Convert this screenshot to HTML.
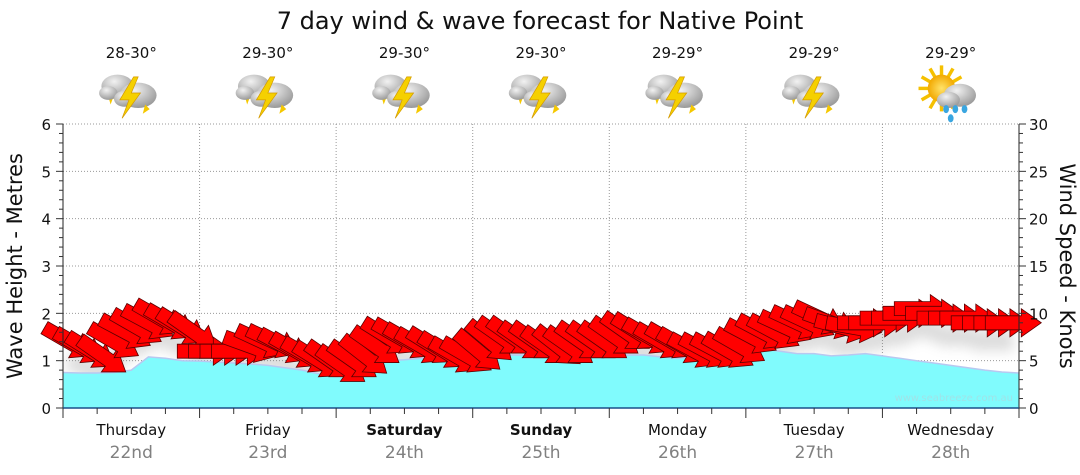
<!DOCTYPE html>
<html><head><meta charset="utf-8"><style>
body{margin:0;background:#fff;}
svg{display:block;font-family:"DejaVu Sans","Liberation Sans",sans-serif;}
</style></head><body>
<svg id="chart" width="1080" height="475" viewBox="0 0 1080 475">
<defs>
<filter id="blur" x="-10%" y="-50%" width="120%" height="200%"><feGaussianBlur stdDeviation="6"/></filter>
<radialGradient id="cloudg" cx="40%" cy="30%" r="70%"><stop offset="0" stop-color="#f2f2f2"/><stop offset="1" stop-color="#9a9a9a"/></radialGradient>
<radialGradient id="sung" cx="50%" cy="50%" r="50%"><stop offset="0" stop-color="#ffe36a"/><stop offset="1" stop-color="#f2a800"/></radialGradient>
</defs>
<text x="540" y="29" text-anchor="middle" font-size="24" fill="#111">7 day wind &amp; wave forecast for Native Point</text>
<g id="grid"></g>
<g id="shadow" filter="url(#blur)" opacity="0.25"></g>
<g id="wave"></g>
<g id="arrows"></g>
<g id="axes"></g>
<g id="icons"></g>
<text x="1013" y="401" text-anchor="end" font-size="10" fill="#9fe3e8">www.seabreeze.com.au</text>
<text transform="translate(22,266) rotate(-90)" text-anchor="middle" font-size="21" fill="#111">Wave Height - Metres</text>
<text transform="translate(1060,266) rotate(90)" text-anchor="middle" font-size="21" fill="#111">Wind Speed - Knots</text>
</svg>
<script>
const days=["Thursday","Friday","Saturday","Sunday","Monday","Tuesday","Wednesday"];
const dates=["22nd","23rd","24th","25th","26th","27th","28th"];
const boldDays=[false,false,true,true,false,false,false];
const temps=["28-30°","29-30°","29-30°","29-30°","29-29°","29-29°","29-29°"];
const weather=["storm","storm","storm","storm","storm","storm","sunrain"];
// wave height (m), every 3 hours, 8 per day + end
const waveHeights=[0.75,0.74,0.74,0.75,0.8,1.08,1.05,1.0,
 0.99,0.97,0.95,0.93,0.9,0.85,0.8,0.72,
 0.66,0.7,0.85,1.0,1.02,1.05,1.02,1.0,
 1.05,1.1,1.12,1.12,1.1,1.12,1.15,1.15,
 1.1,1.12,1.12,1.08,1.05,1.08,1.12,1.3,
 1.28,1.25,1.2,1.15,1.15,1.1,1.12,1.15,
 1.1,1.05,1.0,0.95,0.9,0.85,0.8,0.76,0.74];
// wind speed (knots), every 2 hours, 12 per day
const windSpeeds=[7,6.5,6,5.5,7,8,8.5,9,9.5,9,8.5,8,
 6,6,6,6,6.5,7,7,6.5,6,5.5,5,5,
 4.5,5,5.5,6.5,7.5,7.5,7,6.5,6.5,6,5.5,5.5,
 6,7,7.5,7.5,7,7,6.5,6.5,6.5,7,7,7,
 7.5,8,8,7.5,7,7,6.5,6,6,6,6,6.5,
 7.5,8,8,8.5,9,9,9.5,9,8.5,8.5,9,9,
 9.5,9.5,10,10.5,10,9.5,9.5,9.5,9,9,9,9];
// wind arrow heading (deg clockwise from east)
const windDirs=[30,30,32,35,30,28,30,28,30,30,32,35,
 0,0,0,0,20,25,25,28,30,30,32,35,
 35,35,38,35,32,30,30,30,32,32,30,30,
 40,40,35,35,35,35,35,38,35,35,35,35,
 35,35,32,30,30,30,30,28,28,28,30,30,
 28,28,28,25,25,25,25,20,15,10,0,0,
 0,0,0,0,0,0,0,0,0,0,0,0];

const NS="http://www.w3.org/2000/svg";
const X0=63,X1=1019,Y0=408,Y6=124;
const dayW=(X1-X0)/7;
const yM=v=>Y0-(Y0-Y6)*v/6;
const yK=v=>Y0-(Y0-Y6)*v/30;
const xT=h=>X0+dayW*h/24;
function mk(tag,attrs,parent){const e=document.createElementNS(NS,tag);for(const k in attrs)e.setAttribute(k,attrs[k]);parent.appendChild(e);return e;}
const grid=document.getElementById('grid'),axes=document.getElementById('axes');
for(let i=1;i<=6;i++){const l=mk('line',{x1:X0,x2:X1,y1:yM(i),y2:yM(i),stroke:'#999','stroke-dasharray':'1,2'},grid);

}
for(let d=1;d<7;d++){const l=mk('line',{x1:X0+dayW*d,x2:X0+dayW*d,y1:Y6,y2:Y0,stroke:'#999','stroke-dasharray':'1,2'},grid);

}
let p=`M${X0},${Y0}`;
waveHeights.forEach((v,i)=>{p+=` L${xT(i*3).toFixed(1)},${yM(v).toFixed(1)}`;});
p+=` L${X1},${Y0} Z`;
const wa=mk('path',{d:p,fill:'#80fbfd',stroke:'none'},document.getElementById('wave'));


let lp='';waveHeights.forEach((v,i)=>{lp+=(i?' L':'M')+xT(i*3).toFixed(1)+','+yM(v).toFixed(1);});
const wl=mk('path',{d:lp,fill:'none',stroke:'#b8c8f0','stroke-width':1.5},document.getElementById('wave'));


let sp='';windSpeeds.forEach((v,i)=>{sp+=(i?' L':'M')+(xT(i*2+1)).toFixed(1)+','+(yK(v)+18).toFixed(1);});
const sh=mk('path',{d:sp,fill:'none',stroke:'#777','stroke-width':20},document.getElementById('shadow'));


const ag=document.getElementById('arrows');
windSpeeds.forEach((v,i)=>{
 const cx=xT(i*2+1),cy=yK(v);
 const a=mk('path',{d:'M-28,-7 L8,-7 L8,-14 L28,0 L8,14 L8,7 L-28,7 Z',fill:'#f00',stroke:'#5a0000','stroke-width':0.8,transform:`translate(${cx.toFixed(1)},${cy.toFixed(1)}) rotate(${windDirs[i]})`},ag);
 
 
});
mk('line',{x1:X0,x2:X0,y1:Y6,y2:Y0,stroke:'#222'},axes);
mk('line',{x1:X1,x2:X1,y1:Y6,y2:Y0,stroke:'#222'},axes);
mk('line',{x1:X0,x2:X1,y1:Y0,y2:Y0,stroke:'#1a4f8a','stroke-width':1.5},axes);
for(let i=0;i<=30;i++){const y=yM(i/5);
 mk('line',{x1:X0-(i%5?4:7),x2:X0,y1:y,y2:y,stroke:'#333'},axes);
 mk('line',{x1:X1,x2:X1+(i%5?4:7),y1:y,y2:y,stroke:'#333'},axes);}
for(let i=0;i<=6;i++){const t=mk('text',{x:X0-12,y:yM(i)+6,'text-anchor':'end','font-size':15,fill:'#111'},axes);t.textContent=i;
 
 
 const r=mk('text',{x:X1+10,y:yM(i)+6,'font-size':15,fill:'#111'},axes);r.textContent=i*5;
 
 }
for(let h=0;h<=168;h+=6){const x=xT(h);mk('line',{x1:x,x2:x,y1:Y0,y2:Y0+(h%24?6:10),stroke:'#333'},axes);}
const ic=document.getElementById('icons');
days.forEach((d,i)=>{const cx=X0+dayW*(i+0.5);
 const t=mk('text',{x:cx,y:435,'text-anchor':'middle','font-size':15,fill:'#111','font-weight':boldDays[i]?'bold':'normal'},axes);t.textContent=d;
 
 
 const dt=mk('text',{x:cx,y:458,'text-anchor':'middle','font-size':17,fill:'#808080'},axes);dt.textContent=dates[i];
 
 
 const tp=mk('text',{x:cx,y:58,'text-anchor':'middle','font-size':15,fill:'#111'},ic);tp.textContent=temps[i];
 
 
 const g=mk('g',{transform:`translate(${cx},93) scale(1.15)`},ic);
 
 
 if(weather[i]==='storm'){
  mk('path',{d:'M-22,-4 L-18,10 L-15,2 L-13,8 Z',fill:'#f5c800'},g);
  mk('ellipse',{cx:-12,cy:-6,rx:14,ry:10,fill:'url(#cloudg)'},g);
  mk('ellipse',{cx:-20,cy:0,rx:8,ry:6,fill:'url(#cloudg)'},g);
  mk('ellipse',{cx:6,cy:2,rx:16,ry:11,fill:'url(#cloudg)'},g);
  mk('ellipse',{cx:-6,cy:5,rx:9,ry:7,fill:'url(#cloudg)'},g);
  mk('path',{d:'M2,-14 L-10,6 L-2,6 L-8,22 L8,0 L0,0 L6,-14 Z',fill:'#f5d000',stroke:'#d49a00','stroke-width':0.6},g);
  mk('path',{d:'M12,10 L10,18 L16,14 Z',fill:'#f5c800'},g);
 }else{
  for(let k=0;k<12;k++){const a=k*Math.PI/6;mk('line',{x1:-8+Math.cos(a)*10,y1:-4+Math.sin(a)*10,x2:-8+Math.cos(a)*20,y2:-4+Math.sin(a)*20,stroke:'#f5c000','stroke-width':3},g);}
  mk('circle',{cx:-8,cy:-4,r:12,fill:'url(#sung)'},g);
  mk('ellipse',{cx:8,cy:2,rx:14,ry:10,fill:'url(#cloudg)'},g);
  mk('ellipse',{cx:-2,cy:6,rx:10,ry:7,fill:'url(#cloudg)'},g);
  [[-4,14],[4,14],[12,14],[0,22]].forEach(q=>mk('ellipse',{cx:q[0],cy:q[1],rx:2.5,ry:3.5,fill:'#3aa6e0'},g));
 }
});
</script>
</body></html>
